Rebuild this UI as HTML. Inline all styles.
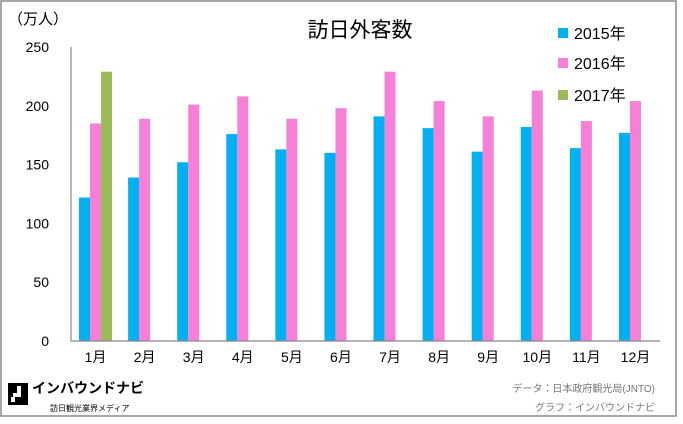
<!DOCTYPE html>
<html><head><meta charset="utf-8"><style>
body{margin:0;background:#fff;width:683px;height:419px;overflow:hidden;font-family:"Liberation Sans","Noto Sans CJK JP",sans-serif}
</style></head><body>
<svg width="683" height="419" xmlns="http://www.w3.org/2000/svg">
<rect x="1" y="1" width="675" height="415" fill="#fff" stroke="#8a8a8a" stroke-width="1.5"/>
<text x="8" y="24" font-size="15" fill="#000">（万人）</text>
<text x="360" y="37" font-size="21" text-anchor="middle" fill="#000">訪日外客数</text>
<g id="legend"></g>
<g id="plot"></g>
<g>
<rect x="8" y="383" width="20" height="22" fill="#000"/>
<rect x="17" y="386" width="4" height="7" fill="#fff"/><rect x="13" y="393" width="8" height="4" fill="#fff"/><rect x="11" y="397" width="4" height="5" fill="#fff"/>
<text x="32" y="393" font-size="14" font-weight="bold" fill="#000">インバウンドナビ</text>
<text x="50" y="411" font-size="8" fill="#000">訪日観光業界メディア</text>
</g>
<text x="655" y="392" font-size="10" text-anchor="end" fill="#777">データ：日本政府観光局(JNTO)</text>
<text x="655" y="411" font-size="10" text-anchor="end" fill="#777">グラフ：インバウンドナビ</text>
</svg>
<script>
const categories=["1月","2月","3月","4月","5月","6月","7月","8月","9月","10月","11月","12月"];
const series2015=[122,139,152,176,163,160,191,181,161,182,164,177];
const series2016=[185,189,201,208,189,198,229,204,191,213,187,204];
const series2017=[229,null,null,null,null,null,null,null,null,null,null,null];
const yTicks=[0,50,100,150,200,250];
const seriesNames=["2015年","2016年","2017年"];
const colors=["#00b0f0","#f680d8","#9bbb59"];
const NS="http://www.w3.org/2000/svg";
const X0=71,X1=660,Y0=341,Y1=47,YMAX=250;
const y=v=>Y0-(v/YMAX)*(Y0-Y1);
const bw=(X1-X0)/categories.length;
const xc=i=>X0+bw*(i+0.5);
const plot=document.getElementById('plot');
function mk(t,a){const e=document.createElementNS(NS,t);for(const k in a)e.setAttribute(k,a[k]);return e;}
yTicks.forEach(t=>{const e=mk('text',{x:49,y:y(t)+5,'font-size':14,'text-anchor':'end',fill:'#000'});e.textContent=t;


plot.appendChild(e);});
[series2015,series2016,series2017].forEach((s,si)=>{s.forEach((v,i)=>{if(v==null)return;
const r=mk('rect',{x:xc(i)-16.5+si*11,y:y(v),width:11,height:Y0-y(v),fill:colors[si]});


plot.appendChild(r);});});
const ax=mk('path',{d:`M${X0} ${Y1}V${Y0}H${X1}`,fill:'none',stroke:'#888','stroke-width':1.2});


plot.appendChild(ax);
categories.forEach((c,i)=>{const e=mk('text',{x:xc(i),y:362,'font-size':14,'text-anchor':'middle',fill:'#000'});e.textContent=c;


plot.appendChild(e);});
const lg=document.getElementById('legend');
seriesNames.forEach((n,i)=>{const yy=[33,63,95][i];
const g=mk('g',{});


g.appendChild(mk('rect',{x:558,y:yy-5,width:10,height:10,fill:colors[i]}));
const t=mk('text',{x:574,y:yy+6,'font-size':16,fill:'#000'});t.textContent=n;g.appendChild(t);lg.appendChild(g);});
</script>
</body></html>
